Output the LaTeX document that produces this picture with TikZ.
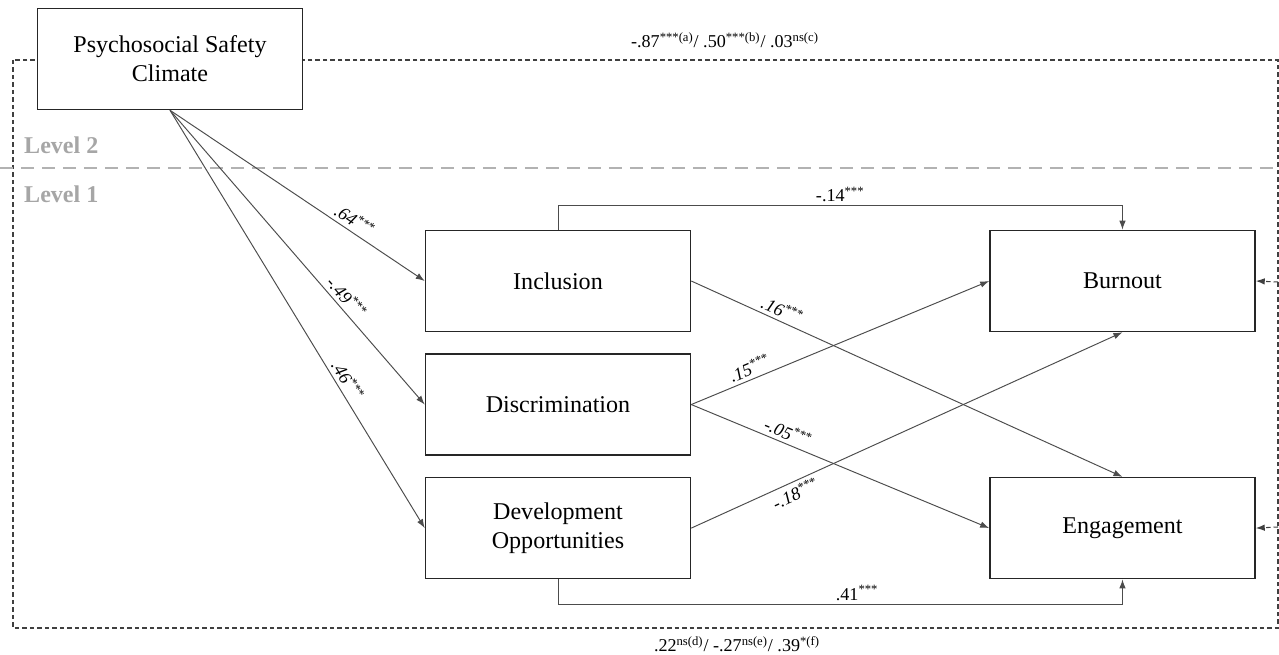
\documentclass[tikz,border=0pt]{standalone}
\usepackage{fontspec}
\setmainfont{Liberation Serif}
\usetikzlibrary{positioning}
\usetikzlibrary{arrows.meta}

\begin{document}
\begin{tikzpicture}[%
    x=0.02cm, y=-0.02cm,
    >={Latex[length=1.8mm,width=1.3mm]},
varnode/.style={rectangle, align=center, draw=black!85, fill=white, line width=0.9pt, minimum width=5.3cm, minimum height=2.02cm, font=\fontsize{13.7}{16.5}\selectfont},
pathline/.style={->, draw=black!70, line width=0.55pt},
coef/.style={font=\fontsize{10.3}{12}\selectfont\itshape, sloped, inner sep=2pt},
flatcoef/.style={font=\fontsize{10.3}{12}\selectfont, inner sep=2pt},
framedash/.style={draw=black!75, line width=0.6pt, dash pattern=on 0.09cm off 0.06cm},
leveltext/.style={anchor=west, text=black!35, font=\fontsize{13.7}{16}\selectfont\bfseries}
]

\useasboundingbox (0,0) rectangle (1279,655);

% level frame
\draw[framedash] (13,60) rectangle (1278,628);
\draw[draw=black!30, line width=1.7pt, dash pattern=on 0.26cm off 0.16cm] (0,168) -- (1279,168);

\node[leveltext]      (leveltwo) at (18,145) {Level 2};
\node[leveltext]      (levelone) at (18,194) {Level 1};

% level 2 node
\node[varnode]        (psc) at (170,59) {Psychosocial Safety\\Climate};

% level 1 nodes
\node[varnode]        (inclusion) at (558,281) {Inclusion};
\node[varnode]        (discrimination) [below=0.42cm of inclusion] {Discrimination};
\node[varnode]        (development) [below=0.42cm of discrimination] {Development\\Opportunities};

\node[varnode]        (burnout) [right=5.96cm of inclusion] {Burnout};
\node[varnode]        (engagement) [right=5.96cm of development] {Engagement};

% between level coefficients
\node[flatcoef]       (topcoef) at (725,40) {-.87\textsuperscript{***(a)}/ .50\textsuperscript{***(b)}/ .03\textsuperscript{ns(c)}};
\node[flatcoef]       (bottomcoef) at (737,644) {.22\textsuperscript{ns(d)}/ -.27\textsuperscript{ns(e)}/ .39\textsuperscript{*(f)}};

\coordinate (frameburnout) at (1278,282);
\coordinate (frameengagement) at (1278,527);

% psc lines
\draw[pathline] (psc.south) -- (inclusion.west) node[coef, pos=0.7, above] {.64\textsuperscript{***}};
\draw[pathline] (psc.south) -- (discrimination.west) node[coef, pos=0.66, above] {-.49\textsuperscript{***}};
\draw[pathline] (psc.south) -- (development.west) node[coef, pos=0.66, above] {.46\textsuperscript{***}};

% outcome lines
\draw[pathline] (inclusion.north) -- ++(0,-24) -| (burnout.north) node[flatcoef, pos=0.25, above] {-.14\textsuperscript{***}};
\draw[pathline] (inclusion.east) -- (engagement.north) node[coef, pos=0.2, above] {.16\textsuperscript{***}};
\draw[pathline] (discrimination.east) -- (burnout.west) node[coef, pos=0.21, above] {.15\textsuperscript{***}};
\draw[pathline] (discrimination.east) -- (engagement.west) node[coef, pos=0.31, above] {-.05\textsuperscript{***}};
\draw[pathline] (development.east) -- (burnout.south) node[coef, pos=0.23, below] {-.18\textsuperscript{***}};
\draw[pathline] (development.south) -- ++(0,25) -| (engagement.south) node[flatcoef, pos=0.265, above] {.41\textsuperscript{***}};

% frame to outcomes
\draw[->, framedash] (frameburnout) -- (burnout.east);
\draw[->, framedash] (frameengagement) -- (engagement.east);

\end{tikzpicture}
\end{document}
